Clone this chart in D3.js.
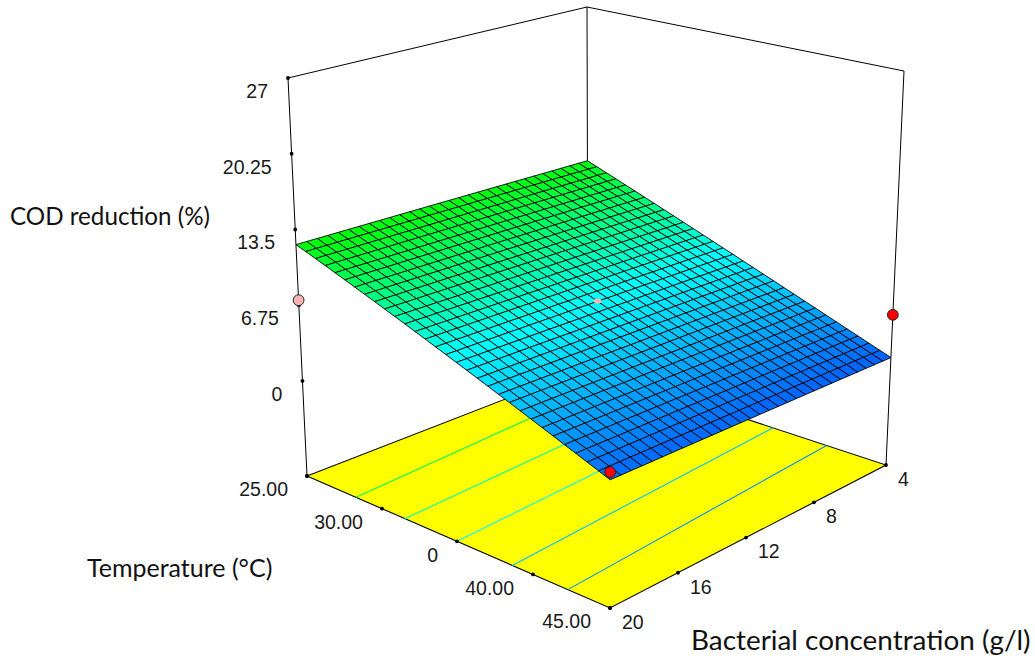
<!DOCTYPE html>
<html><head><meta charset="utf-8">
<script src="https://cdn.jsdelivr.net/npm/d3@7"></script>
<style>html,body{margin:0;padding:0;background:#fff}svg{display:block}</style>
</head><body><div id="chart"></div>
<script>
// ---------- data ----------
const zTicks = [0, 6.75, 13.5, 20.25, 27];
const zTickLabels = ["0", "6.75", "13.5", "20.25", "27"];
const temperatureTicks = [25, 30, 35, 40, 45];
const temperatureLabels = ["25.00", "30.00", "0", "40.00", "45.00"];
const bacterialTicks = [4, 8, 12, 16, 20];
const bacterialLabels = ["4", "8", "12", "16", "20"];
const zFloor = -8.47;
// contour lines on the floor: temperature where each meets B=20 and B=4
const contourLevels = [10.2, 8.35, 6.45, 4.55, 2.75];
const contourTempAtB20 = [28.27, 31.53, 35.0, 38.63, 42.26];
const contourTempAtB4 = [27.16, 30.66, 34.03, 37.51, 41.08];
// design points: [temperature, bacterial, COD reduction]
const designPoints = [[25, 20, 7.2], [45, 4, 5.05], [45, 20, 2.1]];
const designColors = ["#ffb4b4", "#ff0000", "#ff0000"];
const centerPoint = [35, 12, 6.7];
// response surface: rows = temperature 25..45 (31 nodes), columns = bacterial 4..20 (31 nodes)
const surfaceZ = [
[11.85,11.86,11.87,11.88,11.89,11.90,11.91,11.92,11.93,11.94,11.95,11.96,11.97,11.98,11.99,12.00,12.01,12.02,12.03,12.04,12.05,12.06,12.07,12.08,12.09,12.10,12.11,12.12,12.13,12.14,12.15],
[11.50,11.51,11.52,11.53,11.54,11.55,11.56,11.57,11.58,11.59,11.60,11.61,11.62,11.63,11.64,11.65,11.66,11.67,11.68,11.69,11.70,11.71,11.72,11.73,11.74,11.75,11.76,11.77,11.78,11.79,11.80],
[11.14,11.15,11.16,11.17,11.18,11.19,11.20,11.21,11.22,11.23,11.24,11.25,11.26,11.27,11.28,11.29,11.30,11.31,11.32,11.33,11.34,11.35,11.36,11.37,11.38,11.39,11.40,11.41,11.42,11.43,11.44],
[10.79,10.80,10.81,10.82,10.83,10.84,10.85,10.86,10.87,10.88,10.89,10.90,10.91,10.92,10.93,10.94,10.95,10.96,10.97,10.98,10.99,11.00,11.01,11.02,11.03,11.04,11.05,11.06,11.07,11.08,11.09],
[10.43,10.44,10.45,10.46,10.47,10.48,10.49,10.50,10.51,10.52,10.53,10.54,10.55,10.56,10.57,10.58,10.59,10.60,10.61,10.62,10.63,10.64,10.65,10.66,10.67,10.68,10.69,10.70,10.71,10.72,10.73],
[10.08,10.09,10.10,10.11,10.12,10.13,10.14,10.15,10.16,10.17,10.18,10.19,10.20,10.21,10.22,10.23,10.24,10.25,10.26,10.27,10.28,10.29,10.30,10.31,10.32,10.33,10.34,10.35,10.36,10.37,10.38],
[9.72,9.73,9.74,9.75,9.76,9.77,9.78,9.79,9.80,9.81,9.82,9.83,9.84,9.85,9.86,9.87,9.88,9.89,9.90,9.91,9.92,9.93,9.94,9.95,9.96,9.97,9.98,9.99,10.00,10.01,10.02],
[9.37,9.38,9.39,9.40,9.41,9.42,9.43,9.44,9.45,9.46,9.47,9.48,9.49,9.50,9.51,9.52,9.53,9.54,9.55,9.56,9.57,9.58,9.59,9.60,9.61,9.62,9.63,9.64,9.65,9.66,9.67],
[9.01,9.02,9.03,9.04,9.05,9.06,9.07,9.08,9.09,9.10,9.11,9.12,9.13,9.14,9.15,9.16,9.17,9.18,9.19,9.20,9.21,9.22,9.23,9.24,9.25,9.26,9.27,9.28,9.29,9.30,9.31],
[8.66,8.67,8.68,8.69,8.70,8.71,8.72,8.73,8.74,8.75,8.76,8.77,8.78,8.79,8.80,8.81,8.82,8.83,8.84,8.85,8.86,8.87,8.88,8.89,8.90,8.91,8.92,8.93,8.94,8.95,8.96],
[8.30,8.31,8.32,8.33,8.34,8.35,8.36,8.37,8.38,8.39,8.40,8.41,8.42,8.43,8.44,8.45,8.46,8.47,8.48,8.49,8.50,8.51,8.52,8.53,8.54,8.55,8.56,8.57,8.58,8.59,8.60],
[7.95,7.96,7.97,7.98,7.99,8.00,8.01,8.02,8.03,8.04,8.05,8.06,8.07,8.08,8.09,8.10,8.11,8.12,8.13,8.14,8.15,8.16,8.17,8.18,8.19,8.20,8.21,8.22,8.23,8.24,8.25],
[7.59,7.60,7.61,7.62,7.63,7.64,7.65,7.66,7.67,7.68,7.69,7.70,7.71,7.72,7.73,7.74,7.75,7.76,7.77,7.78,7.79,7.80,7.81,7.82,7.83,7.84,7.85,7.86,7.87,7.88,7.89],
[7.24,7.25,7.26,7.27,7.28,7.29,7.30,7.31,7.32,7.33,7.34,7.35,7.36,7.37,7.38,7.39,7.40,7.41,7.42,7.43,7.44,7.45,7.46,7.47,7.48,7.49,7.50,7.51,7.52,7.53,7.54],
[6.88,6.89,6.90,6.91,6.92,6.93,6.94,6.95,6.96,6.97,6.98,6.99,7.00,7.01,7.02,7.03,7.04,7.05,7.06,7.07,7.08,7.09,7.10,7.11,7.12,7.13,7.14,7.15,7.16,7.17,7.18],
[6.53,6.54,6.55,6.56,6.57,6.58,6.59,6.60,6.61,6.62,6.63,6.64,6.65,6.66,6.67,6.68,6.69,6.70,6.71,6.72,6.73,6.74,6.75,6.76,6.77,6.78,6.79,6.80,6.81,6.82,6.83],
[6.17,6.18,6.19,6.20,6.21,6.22,6.23,6.24,6.25,6.26,6.27,6.28,6.29,6.30,6.31,6.32,6.33,6.34,6.35,6.36,6.37,6.38,6.39,6.40,6.41,6.42,6.43,6.44,6.45,6.46,6.47],
[5.82,5.83,5.84,5.85,5.86,5.87,5.88,5.89,5.90,5.91,5.92,5.93,5.94,5.95,5.96,5.97,5.98,5.99,6.00,6.01,6.02,6.03,6.04,6.05,6.06,6.07,6.08,6.09,6.10,6.11,6.12],
[5.46,5.47,5.48,5.49,5.50,5.51,5.52,5.53,5.54,5.55,5.56,5.57,5.58,5.59,5.60,5.61,5.62,5.63,5.64,5.65,5.66,5.67,5.68,5.69,5.70,5.71,5.72,5.73,5.74,5.75,5.76],
[5.11,5.12,5.13,5.14,5.15,5.16,5.17,5.18,5.19,5.20,5.21,5.22,5.23,5.24,5.25,5.26,5.27,5.28,5.29,5.30,5.31,5.32,5.33,5.34,5.35,5.36,5.37,5.38,5.39,5.40,5.41],
[4.75,4.76,4.77,4.78,4.79,4.80,4.81,4.82,4.83,4.84,4.85,4.86,4.87,4.88,4.89,4.90,4.91,4.92,4.93,4.94,4.95,4.96,4.97,4.98,4.99,5.00,5.01,5.02,5.03,5.04,5.05],
[4.40,4.41,4.42,4.43,4.44,4.45,4.46,4.47,4.48,4.49,4.50,4.51,4.52,4.53,4.54,4.55,4.56,4.57,4.58,4.59,4.60,4.61,4.62,4.63,4.64,4.65,4.66,4.67,4.68,4.69,4.70],
[4.04,4.05,4.06,4.07,4.08,4.09,4.10,4.11,4.12,4.13,4.14,4.15,4.16,4.17,4.18,4.19,4.20,4.21,4.22,4.23,4.24,4.25,4.26,4.27,4.28,4.29,4.30,4.31,4.32,4.33,4.34],
[3.69,3.70,3.71,3.72,3.73,3.74,3.75,3.76,3.77,3.78,3.79,3.80,3.81,3.82,3.83,3.84,3.85,3.86,3.87,3.88,3.89,3.90,3.91,3.92,3.93,3.94,3.95,3.96,3.97,3.98,3.99],
[3.33,3.34,3.35,3.36,3.37,3.38,3.39,3.40,3.41,3.42,3.43,3.44,3.45,3.46,3.47,3.48,3.49,3.50,3.51,3.52,3.53,3.54,3.55,3.56,3.57,3.58,3.59,3.60,3.61,3.62,3.63],
[2.98,2.99,3.00,3.01,3.02,3.03,3.04,3.05,3.06,3.07,3.08,3.09,3.10,3.11,3.12,3.13,3.14,3.15,3.16,3.17,3.18,3.19,3.20,3.21,3.22,3.23,3.24,3.25,3.26,3.27,3.28],
[2.62,2.63,2.64,2.65,2.66,2.67,2.68,2.69,2.70,2.71,2.72,2.73,2.74,2.75,2.76,2.77,2.78,2.79,2.80,2.81,2.82,2.83,2.84,2.85,2.86,2.87,2.88,2.89,2.90,2.91,2.92],
[2.27,2.28,2.29,2.30,2.31,2.32,2.33,2.34,2.35,2.36,2.37,2.38,2.39,2.40,2.41,2.42,2.43,2.44,2.45,2.46,2.47,2.48,2.49,2.50,2.51,2.52,2.53,2.54,2.55,2.56,2.57],
[1.91,1.92,1.93,1.94,1.95,1.96,1.97,1.98,1.99,2.00,2.01,2.02,2.03,2.04,2.05,2.06,2.07,2.08,2.09,2.10,2.11,2.12,2.13,2.14,2.15,2.16,2.17,2.18,2.19,2.20,2.21],
[1.56,1.57,1.58,1.59,1.60,1.61,1.62,1.63,1.64,1.65,1.66,1.67,1.68,1.69,1.70,1.71,1.72,1.73,1.74,1.75,1.76,1.77,1.78,1.79,1.80,1.81,1.82,1.83,1.84,1.85,1.86],
[1.20,1.21,1.22,1.23,1.24,1.25,1.26,1.27,1.28,1.29,1.30,1.31,1.32,1.33,1.34,1.35,1.36,1.37,1.38,1.39,1.40,1.41,1.42,1.43,1.44,1.45,1.46,1.47,1.48,1.49,1.50]
];
const temperatureNodes = d3.range(surfaceZ.length);
const bacterialNodes = d3.range(surfaceZ[0].length);

// ---------- scales ----------
const uScale = d3.scaleLinear().domain([4, 20]).range([0, 1]);
const vScale = d3.scaleLinear().domain([25, 45]).range([0, 1]);
const sScale = d3.scaleLinear().domain([zFloor, 27]).range([0, 1]);
// the floor's printed axes run almost evenly, unlike the mesh above it
const floorU = d3.scaleLinear().domain(bacterialTicks).range([0, 0.2609, 0.5072, 0.7536, 1]);
const floorV = d3.scaleLinear().domain(temperatureTicks).range([0, 0.2475, 0.495, 0.746, 1]);
const colorScale = d3.scaleLinear().domain([1.2, 6.7, 12.2]).range(["#0060ff", "#00ffff", "#00ff00"]);

// ---------- projection (camera frame) ----------
const floorCorners = [[588,367],[307,476],[610,608],[886,465]];
const topCorners = [[587,7],[288,78],[610.5,152],[904,71]];
function quadMap(p0, p1, p2, p3) { // (0,0),(1,0),(1,1),(0,1)
  const dx1 = p1[0]-p2[0], dx2 = p3[0]-p2[0], sx = p0[0]-p1[0]+p2[0]-p3[0];
  const dy1 = p1[1]-p2[1], dy2 = p3[1]-p2[1], sy = p0[1]-p1[1]+p2[1]-p3[1];
  const den = dx1*dy2 - dx2*dy1;
  const g = (sx*dy2 - dx2*sy)/den, h = (dx1*sy - sx*dy1)/den;
  const a = p1[0]-p0[0]+g*p1[0], b = p3[0]-p0[0]+h*p3[0], c = p0[0];
  const d = p1[1]-p0[1]+g*p1[1], e = p3[1]-p0[1]+h*p3[1], f = p0[1];
  return (u, v) => { const w = g*u+h*v+1; return [(a*u+b*v+c)/w, (d*u+e*v+f)/w]; };
}
const floorMap = quadMap(...floorCorners);
const topMap = quadMap(...topCorners);
function project(t, b, z) {
  const u = uScale(b), v = vScale(t), s = sScale(z);
  const F = floorMap(u, v), T = topMap(u, v);
  return [F[0]+(T[0]-F[0])*s, F[1]+(T[1]-F[1])*s];
}
function floorPoint(t, b) { // bilinear across the floor quad
  const u = floorU(b), v = floorV(t), [p0, p1, p2, p3] = floorCorners;
  const at = k => (1-u)*(1-v)*p0[k] + u*(1-v)*p1[k] + u*v*p2[k] + (1-u)*v*p3[k];
  return [at(0), at(1)];
}
const tAt = d3.scaleLinear().domain([0, surfaceZ.length-1]).range([25, 45]);
const bAt = d3.scaleLinear().domain([0, surfaceZ[0].length-1]).range([4, 20]);

// ---------- drawing ----------
const svg = d3.select("#chart").append("svg").attr("width", 1035).attr("height", 656);
const line = d3.line();
const frame = svg.append("g").attr("fill", "none").attr("stroke", "#000").attr("stroke-width", 1);
const axisEdges = [
  [[25,20,zFloor],[25,20,27]],
  [[45,4,zFloor],[45,4,27]],
  [[25,4,zFloor],[25,4,27]],
  [[25,20,27],[25,4,27]],
  [[25,4,27],[45,4,27]]
];
frame.selectAll("path").data(axisEdges).join("path")
  .attr("d", d => line(d.map(p => project(...p))));

// floor
svg.append("path")
  .attr("d", line([[25,4],[25,20],[45,20],[45,4]].map(p => project(p[0], p[1], zFloor))) + "Z")
  .attr("fill", "#ffff00").attr("stroke", "#000").attr("stroke-width", 1.1);

// contours
svg.append("g").selectAll("path").data(contourLevels).join("path")
  .attr("fill", "none").attr("stroke-width", 1.1)
  .attr("stroke", d => colorScale(d))
  .attr("d", (d, i) => line([floorPoint(contourTempAtB20[i], 20), floorPoint(contourTempAtB4[i], 4)]));

// ticks
const tickDots = [
  ...[...zTicks, zFloor].map(z => project(25, 20, z)),
  ...temperatureTicks.map(t => floorPoint(t, 20)),
  ...bacterialTicks.map(b => floorPoint(45, b))
];
svg.append("g").selectAll("circle").data(tickDots).join("circle")
  .attr("r", 1.9).attr("fill", "#000")
  .attr("cx", d => d[0]).attr("cy", d => d[1]);

// surface: back to front
const cells = [];
for (const i of temperatureNodes.slice(0, -1)) for (const j of bacterialNodes.slice(0, -1)) cells.push([i, j]);
svg.append("g").selectAll("path").data(cells).join("path")
  .attr("stroke", "#000").attr("stroke-width", 0.9).attr("stroke-linejoin", "round")
  .attr("fill", ([i, j]) => colorScale((surfaceZ[i][j]+surfaceZ[i+1][j]+surfaceZ[i][j+1]+surfaceZ[i+1][j+1])/4))
  .attr("d", ([i, j]) => line([[i,j],[i,j+1],[i+1,j+1],[i+1,j]].map(([a,b]) => project(tAt(a), bAt(b), surfaceZ[a][b]))) + "Z");

// design points
svg.append("g").selectAll("circle").data(designPoints).join("circle")
  .attr("r", 5.4).attr("stroke", "#222").attr("stroke-width", 1)
  .attr("fill", (d, i) => designColors[i])
  .attr("cx", d => project(...d)[0]).attr("cy", d => project(...d)[1]);
svg.append("ellipse")
  .attr("cx", project(...centerPoint)[0]).attr("cy", project(...centerPoint)[1])
  .attr("rx", 4).attr("ry", 2.4).attr("fill", "#ffb4b4");

// tick labels
const labelFont = "'Liberation Sans', Arial, sans-serif";
function tickText(data, texts, posFn, anchor, dx, dy) {
  svg.append("g").selectAll("text").data(data).join("text")
    .attr("font-family", labelFont).attr("font-size", 19.5).attr("fill", "#1a1a1a")
    .attr("text-anchor", anchor).attr("dy", "0.35em")
    .attr("x", d => posFn(d)[0] + dx).attr("y", d => posFn(d)[1] + dy)
    .text((d, i) => texts[i]);
}
tickText(zTicks, zTickLabels, z => project(25, 20, z), "end", -20, 13);
tickText(temperatureTicks, temperatureLabels, t => floorPoint(t, 20), "end", -19, 13.5);
tickText(bacterialTicks, bacterialLabels, b => floorPoint(45, b), "start", 12, 14);

// axis titles
const axisTitles = ["COD reduction (%)", "Temperature (°C)", "Bacterial concentration (g/l)"];
const titleLayout = [[10, 217, 24.2], [87, 568, 25], [691, 640, 27.9]];
svg.append("g").selectAll("text").data(axisTitles).join("text")
  .attr("font-family", "Lato, sans-serif").attr("fill", "#111").attr("dy", "0.35em")
  .attr("x", (d, i) => titleLayout[i][0]).attr("y", (d, i) => titleLayout[i][1])
  .attr("font-size", (d, i) => titleLayout[i][2]).text(d => d);
</script>
</body></html>
